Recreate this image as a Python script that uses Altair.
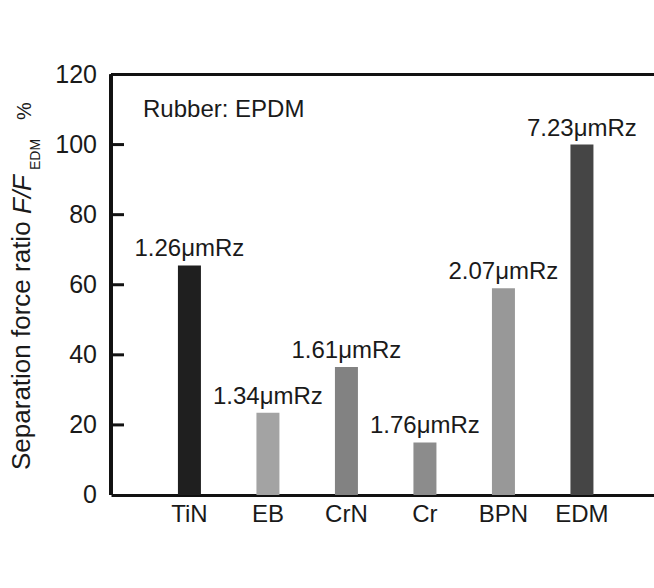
import altair as alt
import pandas as pd

categories = ["TiN", "EB", "CrN", "Cr", "BPN", "EDM"]
values = [65.5, 23.5, 36.5, 15.0, 59.0, 100.0]
labels = ["1.26μmRz", "1.34μmRz", "1.61μmRz", "1.76μmRz", "2.07μmRz", "7.23μmRz"]
colors = ["#1f1f1f", "#a3a3a3", "#828282", "#8c8c8c", "#989898", "#454545"]
y_ticks = [0, 20, 40, 60, 80, 100, 120]
inner_ticks = [20, 40, 60, 80, 100]

FONT = "Liberation Sans"
TXT = "#1a1a1a"
df = pd.DataFrame({"cat": categories, "val": values, "lab": labels, "col": colors})

xscale = alt.Scale(domain=categories, paddingInner=0.707, paddingOuter=0.812, align=0.525)
yscale = alt.Scale(domain=[0, 120], nice=False, zero=True)

base = alt.Chart(df)

# inward ticks on the y axis (drawn first)
tick_marks = alt.Chart(alt.InlineData(values=[{"tv": v} for v in inner_ticks])).mark_rule(
    color="#111111", strokeWidth=3
).encode(
    y=alt.Y("tv:Q", scale=yscale, axis=None),
    x=alt.value(0),
    x2=alt.value(13),
)

bars = base.mark_bar(size=23).encode(
    x=alt.X("cat:N", scale=xscale, sort=categories,
            axis=alt.Axis(title=None, labelAngle=0, labelFont=FONT, labelFontSize=24,
                          labelColor=TXT, tickSize=0, labelPadding=7,
                          domainColor="#111111", domainWidth=3)),
    y=alt.Y("val:Q", scale=yscale, axis=None),
    color=alt.Color("col:N", scale=None),
)

bar_text = base.mark_text(font=FONT, fontSize=24, color=TXT, baseline="alphabetic", dy=-9).encode(
    x=alt.X("cat:N", scale=xscale, sort=categories),
    y=alt.Y("val:Q", scale=yscale, axis=None),
    text="lab:N",
)

top_rule = alt.Chart(df).mark_rule(color="#111111", strokeWidth=3).encode(
    y=alt.Y("top:Q", scale=yscale, axis=None),
).transform_calculate(top="120")

# left axis line from 0 to 120
left_rule = alt.Chart(df).mark_rule(color="#111111", strokeWidth=3).encode(
    x=alt.value(0),
    y=alt.Y("lo:Q", scale=yscale, axis=None),
    y2="hi:Q",
).transform_calculate(lo="0", hi="120")

y_labels = alt.Chart(alt.InlineData(values=[{"v": v} for v in y_ticks])).mark_text(
    font=FONT, fontSize=25, color=TXT, align="right", baseline="middle"
).encode(
    y=alt.Y("v:Q", scale=yscale, axis=None),
    x=alt.value(-14),
    text="v:Q",
)

annot = alt.Chart(pd.DataFrame({"t": ["Rubber: EPDM"]})).mark_text(
    font=FONT, fontSize=24, color=TXT, align="left", baseline="alphabetic"
).encode(x=alt.value(32), y=alt.value(42.5), text="t:N")

# Rotated y-axis title built from pieces (italic F/F and subscript EDM)
def vtext(txt, xpx, ypx, size, style="normal"):
    return alt.Chart(pd.DataFrame({"t": [txt]})).mark_text(
        font=FONT, fontSize=size, fontStyle=style, color=TXT,
        align="left", baseline="alphabetic", angle=270
    ).encode(x=alt.value(xpx - 111), y=alt.value(ypx - 74.5), text="t:N")

title_parts = [
    vtext("Separation force ratio", 30, 470, 26),
    vtext("F/F", 31, 214, 26, "italic"),
    vtext("EDM", 40, 170, 14),
    vtext("%", 31, 120, 20),
]

chart = alt.layer(
    tick_marks, bars, bar_text, top_rule, left_rule, y_labels, annot, *title_parts
).properties(
    width=543, height=420.5,
    autosize=alt.AutoSizeParams(type="none"),
    padding={"left": 111, "top": 74.5, "right": 0, "bottom": 93},
    background="white",
).configure_view(stroke=None)

chart.save("out.html", embed_options={"renderer": "svg", "actions": False})
